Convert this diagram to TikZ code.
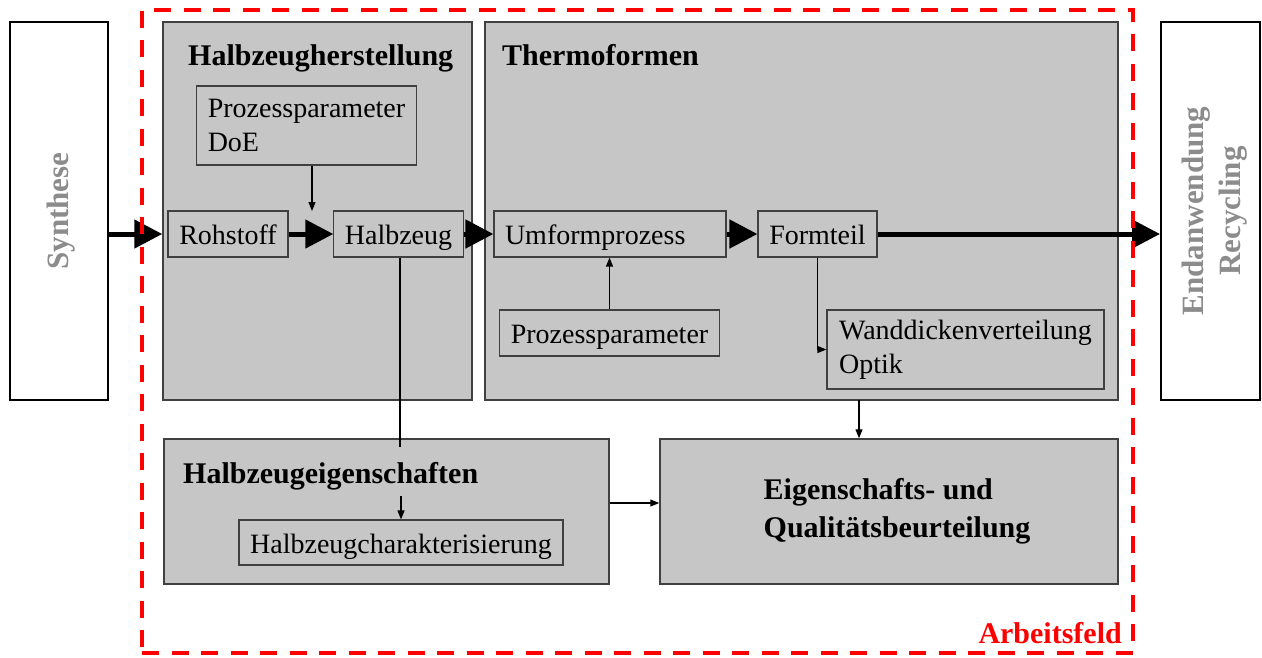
\documentclass[tikz,border=0pt]{standalone}
\usepackage{fontspec}
\setmainfont{Liberation Serif}
\usetikzlibrary{arrows.meta, positioning, calc}
\definecolor{boxgray}{RGB}{198,198,198}
\definecolor{boxline}{RGB}{64,64,64}
\definecolor{sidegray}{RGB}{140,140,140}
\definecolor{feldred}{RGB}{255,0,0}

\begin{document}
\begin{tikzpicture}[x=1pt,y=-1pt, font=\fontsize{28}{34}\selectfont,
  area/.style={draw=boxline, line width=1.5pt, fill=boxgray, inner sep=0pt},
  part/.style={draw=boxline, line width=1.2pt, fill=boxgray, inner xsep=11pt, align=left},
  oneline/.style={text height=23pt, text depth=2pt, inner ysep=0pt},
  twoline/.style={inner ysep=0pt, text depth=10pt},
  side/.style={draw=black, line width=2pt, fill=white, inner sep=0pt},
  sidetext/.style={font=\fontsize{31}{37}\selectfont\bfseries, text=sidegray, rotate=90, align=center},
  title/.style={font=\fontsize{30}{37}\selectfont\bfseries, anchor=base west, inner sep=0pt},
  flow/.style={-{Triangle[length=28pt,width=28pt]}, line width=5pt},
  link/.style={-{Triangle[length=9pt,width=7pt]}, line width=1.2pt},
  feld/.style={draw=feldred, line width=4pt, dash pattern=on 17pt off 12.5pt, inner sep=0pt}]

\useasboundingbox (0,0) rectangle (1262,657);

% --- Synthese / Endanwendung
\node[side, minimum width=98pt, minimum height=378pt] (syn) at (59,211) {};
\node[sidetext] (syntext) at (61,211) {Synthese};
\node[side, minimum width=99pt, minimum height=378pt] (end) at (1210.5,211) {};
\node[sidetext] (endtext) at (1215,211) {Endanwendung\\Recycling};

% --- Halbzeugherstellung
\node[area, minimum width=309pt, minimum height=378pt] (hzh) at (317.5,211) {};
\node[title] (hzhtitle) at (188,65) {Halbzeugherstellung};
\node[part, minimum width=219pt, minimum height=79pt] (doe) at (306.5,125.5) {Prozessparameter\\DoE};
\node[part, oneline, minimum width=120pt, minimum height=46pt] (roh) at (228,234) {Rohstoff};
\node[part, oneline, minimum width=129pt, minimum height=46pt] (hz) at (398.5,234) {Halbzeug};

% --- Thermoformen
\node[area, minimum width=633pt, minimum height=378pt] (thf) at (801.5,211) {};
\node[title] (thftitle) at (502,65) {Thermoformen};
\node[part, oneline, minimum width=232pt, minimum height=46pt, text width=210pt] (umf) at (610,234) {Umformprozess};
\node[part, oneline, minimum width=119pt, minimum height=46pt] (ft) at (817.5,234) {Formteil};
\node[part, oneline, minimum width=219pt, minimum height=46pt] (pp) at (609.5,333) {Prozessparameter};
\node[part, minimum width=277pt, minimum height=79pt] (wd) at (965.5,349.5) {Wanddickenverteilung\\Optik};

% --- Halbzeugeigenschaften
\node[area, minimum width=445pt, minimum height=145pt] (hze) at (386.5,511.5) {};
\node[title] (hzetitle) at (183,483) {Halbzeugeigenschaften};
\node[part, oneline, minimum width=324pt, minimum height=45pt] (hzc) at (401,542.5) {Halbzeugcharakterisierung};

% --- Beurteilung
\node[area, minimum width=458pt, minimum height=145pt] (eq) at (889,511.5) {};
\node[font=\fontsize{30}{38}\selectfont\bfseries, align=left] (eqtext) at (897,511) {Eigenschafts- und\\Qualitätsbeurteilung};

% --- Hauptfluss
\draw[flow] (syn.east |- roh.west) -- (hzh.west |- roh.west);
\draw[flow] (roh) -- (hz);
\draw[flow] (hz) -- (umf);
\draw[flow] (umf) -- (ft);
\draw[flow] (ft) -- (end.west |- ft.east);

% --- Nebenpfeile
\coordinate (doein) at (312,211);
\draw[link] (doe.south -| doein) -- (doein);
\coordinate (hzdown) at (400,447);
\draw[line width=1.2pt] (hz.south -| hzdown) -- (hzdown);
\coordinate (hzcin) at (401,496);
\draw[link] (hzcin) -- (hzc.north -| hzcin);
\draw[link] (pp.north) -- (umf.south -| pp.north);
\draw[link] (ft.south) |- (wd.west);
\coordinate (wdout) at (859,400);
\draw[link] (wdout) -- (eq.north -| wdout);
\draw[link] ([yshift=8.5pt]hze.east) -- ([yshift=8.5pt]eq.west);

% --- Arbeitsfeld
\node[feld, minimum width=991pt, minimum height=643pt] (feld) at (637.5,331.5) {};
\node[font=\fontsize{30}{37}\selectfont\bfseries, text=feldred, anchor=base east, inner sep=0pt] (feldlabel) at (1122,643) {Arbeitsfeld};
\end{tikzpicture}
\end{document}
